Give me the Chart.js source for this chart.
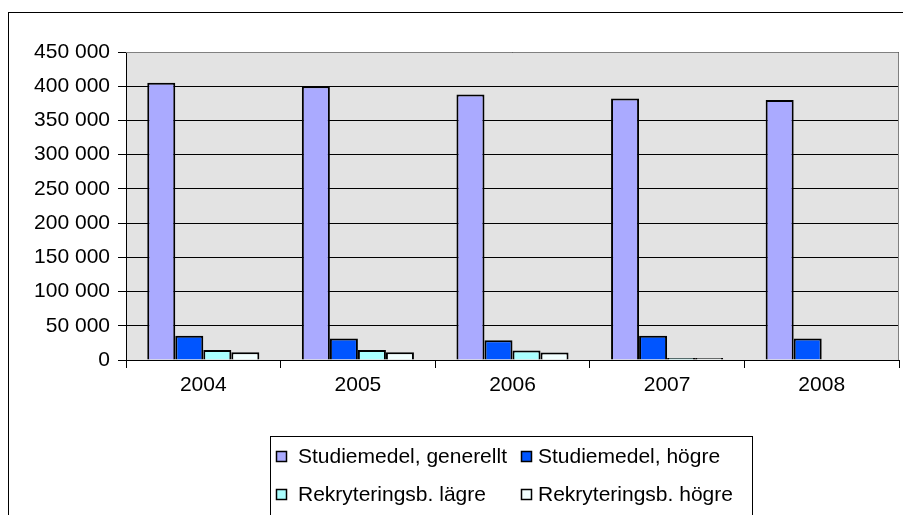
<!DOCTYPE html>
<html>
<head>
<meta charset="utf-8">
<script src="https://cdn.jsdelivr.net/npm/chart.js@4/dist/chart.umd.min.js"></script>
<style>
  html, body { margin: 0; padding: 0; background: #fff; }
  #wrap { width: 903px; height: 515px; position: relative; }
</style>
</head>
<body>
<div id="wrap"><canvas id="myChart" width="903" height="515"></canvas></div>
<script>
// data
const years = ['2004', '2005', '2006', '2007', '2008'];
const generellt = [405000, 400000, 388000, 382000, 380000];
const hogre = [35500, 31500, 29000, 35500, 31500];
const rekrLagre = [14500, 14500, 14000, 3000, null];
const rekrHogre = [11500, 11500, 11000, 3000, null];

const FONT = "'Liberation Sans', Arial, sans-serif";
const FS = 21;

function fmt(v) {
    return String(v).replace(/\B(?=(\d{3})+(?!\d))/g, ' ');
}

// bakgrund, ram och legend
const decor = {
    id: 'decor',
    beforeDraw(chart) {
        const ctx = chart.ctx;
        const a = chart.chartArea;
        ctx.save();
        ctx.fillStyle = '#E3E3E3';
        ctx.fillRect(a.left, a.top, a.right - a.left, a.bottom - a.top);
        ctx.strokeStyle = '#000';
        ctx.lineWidth = 1;
        ctx.strokeRect(8.5, 12.5, 1000, 1000);
        ctx.restore();
    },
    afterDraw(chart) {
        const ctx = chart.ctx;
        const a = chart.chartArea;
        ctx.save();
        ctx.strokeStyle = '#808080';
        ctx.lineWidth = 1;
        ctx.beginPath();
        ctx.moveTo(a.left, a.top + 0.5);
        ctx.lineTo(a.right - 0.5, a.top + 0.5);
        ctx.lineTo(a.right - 0.5, a.bottom);
        ctx.stroke();

        // legend
        ctx.strokeStyle = '#000';
        ctx.strokeRect(270.5, 436.5, 482, 200);
        const cols = [[276, 298], [521, 538]];
        const rows = [456, 494];
        ctx.font = FS + 'px ' + FONT;
        ctx.textBaseline = 'middle';
        chart.data.datasets.forEach((ds, i) => {
            const c = cols[i % 2];
            const y = rows[Math.floor(i / 2)];
            ctx.fillStyle = ds.backgroundColor;
            ctx.fillRect(c[0] + 0.5, y - 4.5, 10, 10);
            ctx.strokeStyle = '#000';
            ctx.lineWidth = 1.5;
            ctx.strokeRect(c[0] + 0.5, y - 4.5, 10, 10);
            ctx.fillStyle = '#000';
            ctx.fillText(ds.label, c[1], y + 1);
        });
        ctx.restore();
    }
};

const canvas = document.querySelector('#myChart');

new Chart(canvas, {
    type: 'bar',
    data: {
        labels: years,
        datasets: [
            { label: 'Studiemedel, generellt', data: generellt, backgroundColor: '#AAAAFF' },
            { label: 'Studiemedel, högre', data: hogre, backgroundColor: '#0055FF' },
            { label: 'Rekryteringsb. lägre', data: rekrLagre, backgroundColor: '#AAFFFF' },
            { label: 'Rekryteringsb. högre', data: rekrHogre, backgroundColor: '#F2FFFF' }
        ].map(d => Object.assign(d, {
            borderColor: '#000',
            borderWidth: 2,
            categoryPercentage: 0.725,
            barPercentage: 1
        }))
    },
    options: {
        responsive: false,
        animation: false,
        layout: { padding: { top: 52, right: 4, left: 0, bottom: 35 } },
        plugins: {
            legend: { display: false },
            tooltip: { enabled: false }
        },
        scales: {
            x: {
                grid: { offset: true, drawOnChartArea: false, tickLength: 8, color: '#000' },
                border: { color: '#000' },
                ticks: { color: '#000', font: { family: FONT, size: FS }, padding: 5 },
                afterFit(s) { s.height = 120; }
            },
            y: {
                min: 0,
                max: 450000,
                grid: { color: '#000', tickLength: 8 },
                border: { color: '#000' },
                ticks: {
                    stepSize: 50000,
                    color: '#000',
                    font: { family: FONT, size: FS },
                    padding: 8,
                    callback: v => fmt(v)
                },
                afterFit(s) { s.width = 126; }
            }
        }
    },
    plugins: [decor]
});
</script>
</body>
</html>
